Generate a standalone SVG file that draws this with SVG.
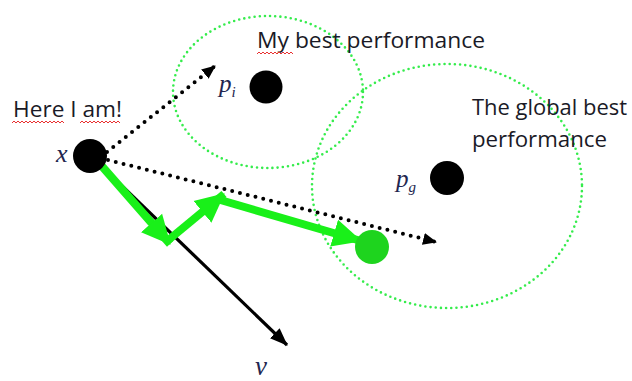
<svg xmlns="http://www.w3.org/2000/svg" width="632" height="381" viewBox="0 0 632 381">
<style>
.region{fill:none;stroke:#35ec4c;stroke-width:2.6;stroke-dasharray:0 5.2;stroke-linecap:round}
.dot{fill:#000}
.lbl{font-family:"Open Sans","Liberation Sans",sans-serif;font-size:22px;fill:#1a1a26}
.math{font-family:"Liberation Serif","DejaVu Serif",serif;font-style:italic;fill:#22264f}
.dotted{fill:none;stroke:#000;stroke-width:4;stroke-dasharray:0 8;stroke-linecap:round}
.vel{fill:none;stroke:#000;stroke-width:3.2}
.move{fill:none;stroke:#19f019;stroke-width:8}
.wavy{fill:none;stroke:#e83030;stroke-width:1}
</style>
<defs>
<marker id="ah-black" markerUnits="userSpaceOnUse" markerWidth="14" markerHeight="12" refX="13" refY="6" orient="auto">
<path d="M0,0 L14,6 L0,12 z" fill="#000"/>
</marker>
<marker id="ah-vel" markerUnits="userSpaceOnUse" markerWidth="18" markerHeight="14" refX="17" refY="7" orient="auto">
<path d="M0,0 L18,7 L0,14 z" fill="#000"/>
</marker>
<marker id="ah-green" markerUnits="userSpaceOnUse" markerWidth="30" markerHeight="30" refX="28" refY="15" orient="auto">
<path d="M0,1 L29,15 L0,29 z" fill="#19f019"/>
</marker>
</defs>

<g id="region-pbest"><ellipse class="region" cx="268" cy="92" rx="95" ry="76"/></g>
<g id="region-gbest"><ellipse class="region" cx="447" cy="186" rx="135" ry="122"/></g>

<g id="connectors">
<line class="dotted" x1="107" y1="152" x2="215" y2="66" marker-end="url(#ah-black)"/>
<line class="dotted" x1="108" y1="160" x2="436" y2="242" marker-end="url(#ah-black)"/>
<line class="vel" x1="92" y1="157" x2="287" y2="345" marker-end="url(#ah-vel)"/>
<line class="move" x1="100" y1="164" x2="170" y2="244" marker-end="url(#ah-green)"/>
<line class="move" x1="166" y1="242" x2="224" y2="194" marker-end="url(#ah-green)"/>
<line class="move" x1="217" y1="199" x2="361" y2="241" marker-end="url(#ah-green)"/>
</g>

<g id="node-x"><circle class="dot" cx="90" cy="156" r="17"/><text class="math" x="56" y="162" font-size="26">x</text></g>
<g id="node-pi"><circle class="dot" cx="266" cy="87" r="16.5"/><text class="math" x="219" y="92" font-size="25">p<tspan font-size="15" dy="5">i</tspan></text></g>
<g id="node-pg"><circle class="dot" cx="447" cy="178" r="17"/><text class="math" x="396" y="187" font-size="25">p<tspan font-size="15" dy="5">g</tspan></text></g>
<g id="node-new"><circle cx="372" cy="247" r="17" fill="#1ed41e"/></g>
<g id="label-v"><text class="math" x="255" y="375" font-size="27">v</text></g>

<g id="labels">
<text class="lbl" x="13" y="117" textLength="109" lengthAdjust="spacingAndGlyphs">Here I am!</text>
<text class="lbl" x="257" y="48" textLength="228" lengthAdjust="spacingAndGlyphs">My best performance</text>
<text class="lbl" x="472" y="115" textLength="155" lengthAdjust="spacingAndGlyphs">The global best</text>
<text class="lbl" x="472" y="147" textLength="135" lengthAdjust="spacingAndGlyphs">performance</text>
<path class="wavy" d="M12,123 l2,-2 2,2 2,-2 2,2 2,-2 2,2 2,-2 2,2 2,-2 2,2 2,-2 2,2 2,-2 2,2 2,-2 2,2 2,-2 2,2 2,-2 2,2 2,-2 2,2 2,-2 2,2 2,-2 2,2"/>
<path class="wavy" d="M80,123 l2,-2 2,2 2,-2 2,2 2,-2 2,2 2,-2 2,2 2,-2 2,2 2,-2 2,2 2,-2 2,2 2,-2 2,2 2,-2 2,2 2,-2 2,2"/>
<path class="wavy" d="M257,54 l2,-2 2,2 2,-2 2,2 2,-2 2,2 2,-2 2,2 2,-2 2,2 2,-2 2,2 2,-2 2,2 2,-2 2,2 2,-2 2,2"/>
</g>
</svg>
